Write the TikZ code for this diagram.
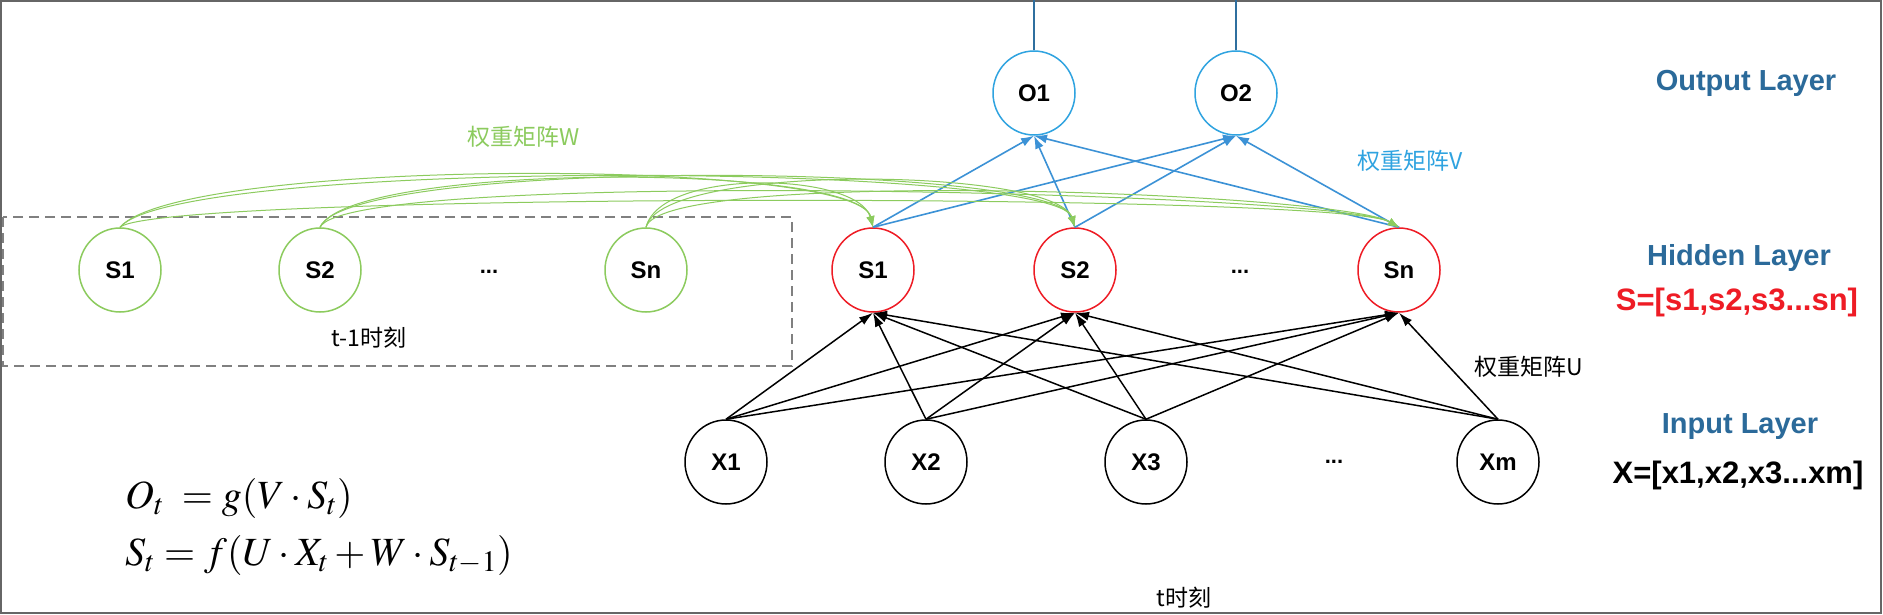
\documentclass[tikz,border=0pt]{standalone}
\usepackage{mathptmx}
\usepackage[no-math]{fontspec}
\setmainfont{Liberation Sans}
\newfontfamily\cjk{Noto Sans CJK SC}
\usetikzlibrary{arrows.meta,shapes.geometric}
\definecolor{obl}{HTML}{2FA3E0}
\definecolor{vbl}{HTML}{3C92D6}
\definecolor{grn}{HTML}{8CCB5E}
\definecolor{redn}{HTML}{EE1C25}
\definecolor{lay}{HTML}{2B6A9A}
\definecolor{topl}{HTML}{2F6F9F}
\definecolor{frame}{HTML}{666666}
\begin{document}
\begin{tikzpicture}[x=1pt,y=-1pt,
  nd/.style={ellipse,minimum width=82pt,minimum height=84pt,inner sep=0pt,line width=1.5pt,font=\bfseries\fontsize{24}{24}\selectfont},
  onode/.style={nd,draw=obl},
  hnode/.style={nd,draw=redn},
  gnode/.style={nd,draw=grn},
  xnode/.style={nd,draw=black},
  dots/.style={font=\bfseries\fontsize{22}{22}\selectfont},
  vline/.style={draw=vbl,line width=1.6pt,-{Latex[length=13pt,width=9pt]}},
  uline/.style={draw=black,line width=1.5pt,-{Latex[length=14pt,width=9pt]}},
  wline/.style={draw=grn,line width=1pt,-{Latex[length=11pt,width=8pt]}},
  topline/.style={draw=topl,line width=1.4pt},
  laytxt/.style={text=lay,font=\bfseries\fontsize{29}{29}\selectfont},
  cjktxt/.style={font=\cjk\fontsize{23}{23}\selectfont}
]
\useasboundingbox (0,0) rectangle (1883,615);
\fill[white] (0,0) rectangle (1883,615);
\draw[frame,line width=2pt] (1,1) rectangle (1881,613);

% dashed box
\draw[gray,line width=1.4pt,dash pattern=on 10pt off 6pt] (3,217) rectangle (792,366);

% nodes
\node[onode] (O1) at (1034,93) {O1};
\node[onode] (O2) at (1236,93) {O2};
\node[hnode] (S1) at (873,270) {S1};
\node[hnode] (S2) at (1075,270) {S2};
\node[dots] (Sd) at (1240,272) {...};
\node[hnode] (Sn) at (1399,270) {Sn};
\node[gnode] (G1) at (120,270) {S1};
\node[gnode] (G2) at (320,270) {S2};
\node[dots] (Gd) at (489,272) {...};
\node[gnode] (Gn) at (646,270) {Sn};
\node[xnode] (X1) at (726,462) {X1};
\node[xnode] (X2) at (926,462) {X2};
\node[xnode] (X3) at (1146,462) {X3};
\node[dots] (Xd) at (1334,462) {...};
\node[xnode] (Xm) at (1498,462) {Xm};

% top lines
\coordinate (T1) at (1034,0);
\coordinate (T2) at (1236,0);
\draw[topline] (O1.north) -- (T1);
\draw[topline] (O2.north) -- (T2);

% U arrows
\foreach \x in {X1,X2,X3,Xm}{
  \foreach \s in {S1,S2,Sn}{
    \draw[uline] (\x.north) -- (\s.south);
  }
}

% V arrows
\foreach \s in {S1,S2,Sn}{
  \draw[vline] (\s.north) -- (O1.south);
  \draw[vline] (\s.north) -- (O2.south);
}

% W curves
\draw[wline] (G1.north) .. controls +(60,-70) and +(-15,-70) .. (S1.north);
\draw[wline] (G1.north) .. controls +(60,-70) and +(-20,-65) .. (S2.north);
\draw[wline] (G1.north) .. controls +(40,-35) and +(-60,-35) .. (Sn.north);
\draw[wline] (G2.north) .. controls +(30,-65) and +(-15,-65) .. (S1.north);
\draw[wline] (G2.north) .. controls +(30,-70) and +(-20,-65) .. (S2.north);
\draw[wline] (G2.north) .. controls +(30,-60) and +(-60,-35) .. (Sn.north);
\draw[wline] (Gn.north) .. controls +(15,-60) and +(-15,-55) .. (S1.north);
\draw[wline] (Gn.north) .. controls +(15,-65) and +(-20,-60) .. (S2.north);
\draw[wline] (Gn.north) .. controls +(15,-60) and +(-60,-35) .. (Sn.north);

% labels
\node[cjktxt,text=grn] (lw) at (524,137) {权重矩阵W};
\node[cjktxt,text=obl] (lv) at (1410,161) {权重矩阵V};
\node[cjktxt] (lu) at (1529,367) {权重矩阵U};
\node[cjktxt] (lt1) at (369,338) {t-1时刻};
\node[cjktxt] (lt) at (1184,598) {t时刻};

\node[laytxt] (lo) at (1746,83) {Output Layer};
\node[laytxt] (lh) at (1739,258) {Hidden Layer};
\node[text=redn,font=\bfseries\fontsize{31}{31}\selectfont] (ls) at (1737,302) {S=[s1,s2,s3...sn]};
\node[laytxt] (li) at (1740,427) {Input Layer};
\node[font=\bfseries\fontsize{31}{31}\selectfont] (lx) at (1738,475) {X=[x1,x2,x3...xm]};

% formulas
\node[anchor=west,font=\fontsize{40}{40}\selectfont,inner sep=0pt] (f1) at (125,498) {$O_t\; = g(V\cdot S_t)$};
\node[anchor=west,font=\fontsize{40}{40}\selectfont,inner sep=0pt] (f2) at (125,555) {$S_t = f(U\cdot X_t + W\cdot S_{t-1})$};
\end{tikzpicture}
\end{document}
